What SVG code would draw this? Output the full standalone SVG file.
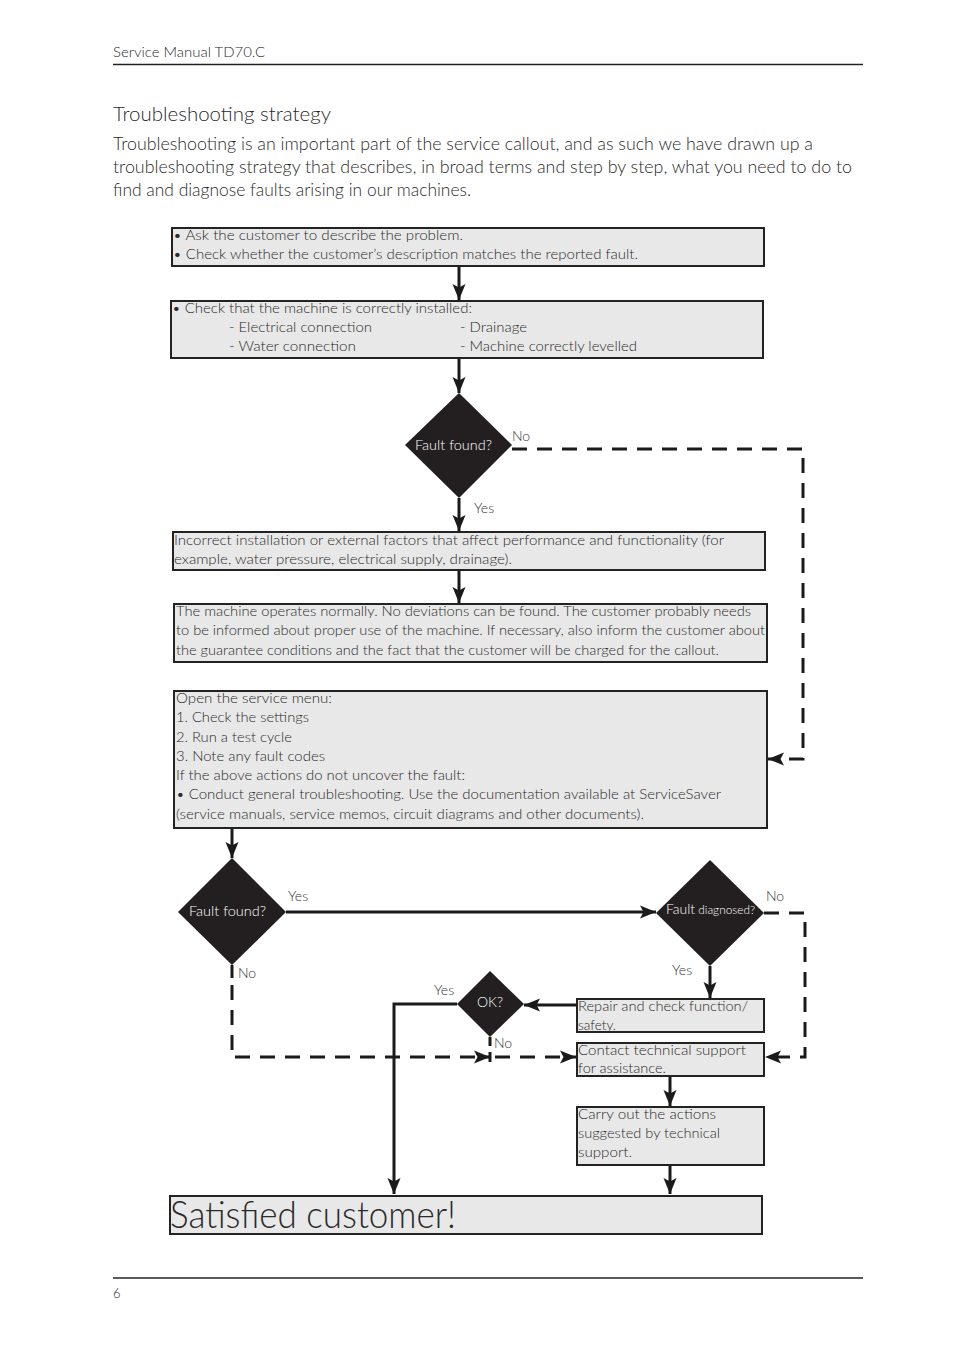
<svg xmlns="http://www.w3.org/2000/svg" width="954" height="1350" viewBox="0 0 954 1350">
<style>
text{font-family:Lato,"Open Sans","Liberation Sans",sans-serif;font-weight:300;fill:#2a2a2a}
.hdr{font-size:13px}
.h2{font-size:20px}
.p{font-size:17.5px}
.t{font-size:14.5px}
.lbl{font-size:14px;fill:#333}
.dt{font-size:14px;fill:#fff}
.box{fill:#e8e8e8;stroke:#222;stroke-width:2}
.dia{fill:#231f20}
.sol{fill:none;stroke:#1a1a1a;stroke-width:3}
.dash{fill:none;stroke:#1a1a1a;stroke-width:3;stroke-dasharray:15 10}
.rule{stroke:#222;stroke-width:1.3}
</style>
<defs>
<marker id="ah" markerUnits="userSpaceOnUse" markerWidth="18" markerHeight="14" refX="16" refY="7" orient="auto">
<path d="M0,0.5 L16,7 L0,13.5 L3.5,7 z" fill="#1a1a1a"/>
</marker>
</defs>

<g id="header">
<text class="hdr" x="113" y="57" textLength="152" lengthAdjust="spacingAndGlyphs">Service Manual TD70.C</text>
<line class="rule" x1="113" y1="64.5" x2="863" y2="64.5"/>
<text class="h2" x="113" y="121" textLength="218" lengthAdjust="spacingAndGlyphs">Troubleshooting strategy</text>
<text class="p" x="113" y="150" textLength="700" lengthAdjust="spacingAndGlyphs">Troubleshooting is an important part of the service callout, and as such we have drawn up a</text>
<text class="p" x="113" y="173" textLength="739" lengthAdjust="spacingAndGlyphs">troubleshooting strategy that describes, in broad terms and step by step, what you need to do to</text>
<text class="p" x="113" y="196" textLength="358" lengthAdjust="spacingAndGlyphs">find and diagnose faults arising in our machines.</text>
</g>

<g id="connectors">
<line class="sol" x1="459" y1="266" x2="459" y2="300" marker-end="url(#ah)"/>
<line class="sol" x1="459" y1="358" x2="459" y2="393" marker-end="url(#ah)"/>
<polyline class="dash" points="512,449 803,449 803,759 768,759" marker-end="url(#ah)"/>
<line class="sol" x1="459" y1="498" x2="459" y2="531" marker-end="url(#ah)"/>
<line class="sol" x1="459" y1="570" x2="459" y2="603" marker-end="url(#ah)"/>
<line class="sol" x1="232" y1="828" x2="232" y2="858" marker-end="url(#ah)"/>
<line class="sol" x1="286" y1="912" x2="656" y2="912" marker-end="url(#ah)"/>
<polyline class="dash" points="764,913 805,913 805,1057 765,1057" marker-end="url(#ah)"/>
<line class="sol" x1="710" y1="966" x2="710" y2="998" marker-end="url(#ah)"/>
<line class="sol" x1="577" y1="1005" x2="524" y2="1005" marker-end="url(#ah)"/>
<polyline class="sol" points="457,1004 394,1004 394,1194" marker-end="url(#ah)"/>
<line class="sol" x1="232" y1="965" x2="232" y2="978"/>
<polyline class="dash" points="232,985 232,1057 490,1057" marker-end="url(#ah)"/>
<line class="sol" x1="490" y1="1037" x2="490" y2="1046"/>
<line class="sol" x1="490" y1="1052" x2="490" y2="1062"/>
<line class="dash" x1="492" y1="1057" x2="576" y2="1057" stroke-dashoffset="-3" marker-end="url(#ah)"/>
<line class="sol" x1="670" y1="1076" x2="670" y2="1106" marker-end="url(#ah)"/>
<line class="sol" x1="670" y1="1165" x2="670" y2="1194" marker-end="url(#ah)"/>
<text class="lbl" x="512" y="441">No</text>
<text class="lbl" x="474" y="513">Yes</text>
<text class="lbl" x="288" y="901">Yes</text>
<text class="lbl" x="238" y="978">No</text>
<text class="lbl" x="766" y="901">No</text>
<text class="lbl" x="672" y="975">Yes</text>
<text class="lbl" x="434" y="995">Yes</text>
<text class="lbl" x="494" y="1048">No</text>
</g>

<g id="box1">
<rect class="box" x="172" y="228" width="592" height="38"/>
<text class="t" x="173" y="240" textLength="290" lengthAdjust="spacingAndGlyphs">• Ask the customer to describe the problem.</text>
<text class="t" x="173" y="259" textLength="465" lengthAdjust="spacingAndGlyphs">• Check whether the customer’s description matches the reported fault.</text>
</g>

<g id="box2">
<rect class="box" x="171" y="301" width="592" height="57"/>
<text class="t" x="172" y="313" textLength="300" lengthAdjust="spacingAndGlyphs">• Check that the machine is correctly installed:</text>
<text class="t" x="229" y="332" textLength="143" lengthAdjust="spacingAndGlyphs">- Electrical connection</text>
<text class="t" x="460" y="332" textLength="67" lengthAdjust="spacingAndGlyphs">- Drainage</text>
<text class="t" x="229" y="351" textLength="127" lengthAdjust="spacingAndGlyphs">- Water connection</text>
<text class="t" x="460" y="351" textLength="177" lengthAdjust="spacingAndGlyphs">- Machine correctly levelled</text>
</g>

<g id="decision1">
<polygon class="dia" points="459,393 512,445 459,498 405,445"/>
<text class="dt" x="415" y="450" textLength="77" lengthAdjust="spacingAndGlyphs">Fault found?</text>
</g>

<g id="box3">
<rect class="box" x="173" y="532" width="592" height="38"/>
<text class="t" x="174" y="545" textLength="550" lengthAdjust="spacingAndGlyphs">Incorrect installation or external factors that affect performance and functionality (for</text>
<text class="t" x="174" y="564" textLength="338" lengthAdjust="spacingAndGlyphs">example, water pressure, electrical supply, drainage).</text>
</g>

<g id="box4">
<rect class="box" x="174" y="604" width="593" height="58"/>
<text class="t" x="176" y="616" textLength="575" lengthAdjust="spacingAndGlyphs">The machine operates normally. No deviations can be found. The customer probably needs</text>
<text class="t" x="176" y="635" textLength="589" lengthAdjust="spacingAndGlyphs">to be informed about proper use of the machine. If necessary, also inform the customer about</text>
<text class="t" x="176" y="655" textLength="543" lengthAdjust="spacingAndGlyphs">the guarantee conditions and the fact that the customer will be charged for the callout.</text>
</g>

<g id="box5">
<rect class="box" x="174" y="691" width="593" height="137"/>
<text class="t" x="176" y="703" textLength="156" lengthAdjust="spacingAndGlyphs">Open the service menu:</text>
<text class="t" x="176" y="722" textLength="133" lengthAdjust="spacingAndGlyphs">1. Check the settings</text>
<text class="t" x="176" y="742" textLength="116" lengthAdjust="spacingAndGlyphs">2. Run a test cycle</text>
<text class="t" x="176" y="761" textLength="149" lengthAdjust="spacingAndGlyphs">3. Note any fault codes</text>
<text class="t" x="176" y="780" textLength="289" lengthAdjust="spacingAndGlyphs">If the above actions do not uncover the fault:</text>
<text class="t" x="176" y="799" textLength="545" lengthAdjust="spacingAndGlyphs">• Conduct general troubleshooting. Use the documentation available at ServiceSaver</text>
<text class="t" x="176" y="819" textLength="468" lengthAdjust="spacingAndGlyphs">(service manuals, service memos, circuit diagrams and other documents).</text>
</g>

<g id="decision2">
<polygon class="dia" points="232,858 286,912 232,965 178,912"/>
<text class="dt" x="189" y="916" textLength="77" lengthAdjust="spacingAndGlyphs">Fault found?</text>
</g>

<g id="decision3">
<polygon class="dia" points="710,860 764,913 710,966 656,913"/>
<text class="dt" x="666" y="914" textLength="89" lengthAdjust="spacingAndGlyphs"><tspan font-size="13">Fault</tspan><tspan font-size="11"> diagnosed?</tspan></text>
</g>

<g id="decision4">
<polygon class="dia" points="490,971 524,1004 490,1037 457,1004"/>
<text class="dt" x="490" y="1007" text-anchor="middle">OK?</text>
</g>

<g id="box6">
<rect class="box" x="577" y="999" width="187" height="33"/>
<text class="t" x="578" y="1011" textLength="170" lengthAdjust="spacingAndGlyphs">Repair and check function/</text>
<text class="t" x="578" y="1030" textLength="38" lengthAdjust="spacingAndGlyphs">safety.</text>
</g>

<g id="box7">
<rect class="box" x="577" y="1043" width="187" height="33"/>
<text class="t" x="578" y="1055" textLength="168" lengthAdjust="spacingAndGlyphs">Contact technical support</text>
<text class="t" x="578" y="1073" textLength="88" lengthAdjust="spacingAndGlyphs">for assistance.</text>
</g>

<g id="box8">
<rect class="box" x="577" y="1107" width="187" height="58"/>
<text class="t" x="578" y="1119" textLength="138" lengthAdjust="spacingAndGlyphs">Carry out the actions</text>
<text class="t" x="578" y="1138" textLength="142" lengthAdjust="spacingAndGlyphs">suggested by technical</text>
<text class="t" x="578" y="1157" textLength="54" lengthAdjust="spacingAndGlyphs">support.</text>
</g>

<g id="box9">
<rect class="box" x="170" y="1196" width="592" height="38" stroke-width="1.5"/>
<text x="170" y="1228" font-size="38" textLength="286" lengthAdjust="spacingAndGlyphs">Satisfied customer!</text>
</g>

<g id="footer">
<line class="rule" x1="113" y1="1278" x2="863" y2="1278"/>
<text class="hdr" x="113" y="1298" font-size="14">6</text>
</g>
</svg>
